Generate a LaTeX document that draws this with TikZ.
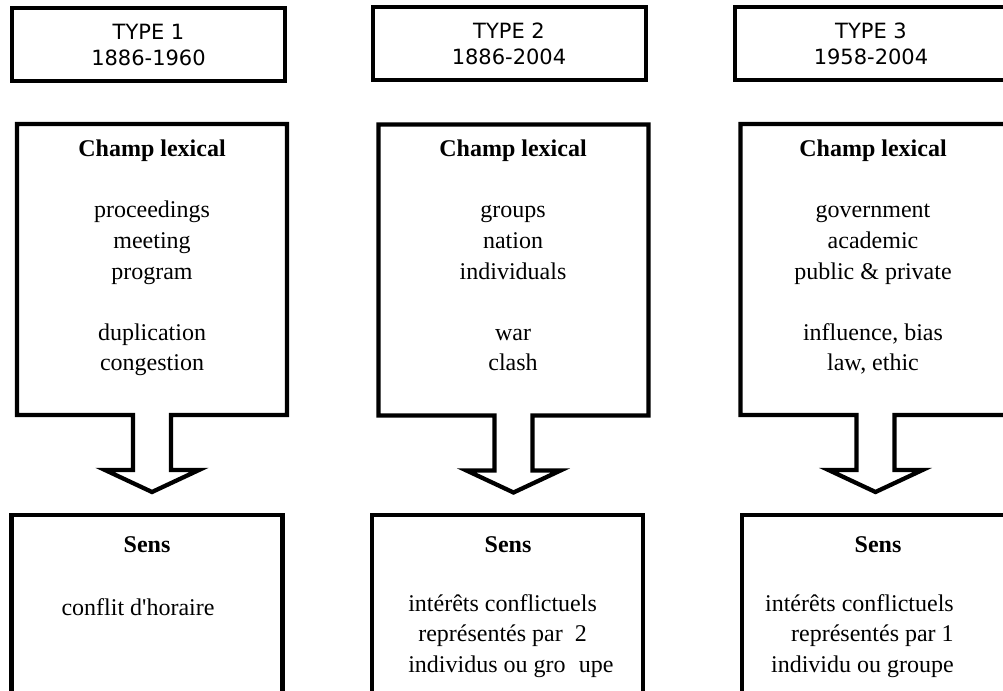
\documentclass[tikz,border=0pt]{standalone}
\usepackage{fontspec}
\setmainfont{Liberation Serif}[Ligatures=TeXOff]
\newfontfamily\typefont{DejaVu Sans}
\usepackage{tikz}
\usetikzlibrary{calc}
\tikzstyle{typebox}=[draw,line width=3pt,minimum width=204.75pt,minimum height=54.75pt,inner sep=0pt,align=center,font=\typefont\fontsize{15.75}{19.5}\selectfont]
\tikzstyle{champbox}=[minimum width=202.5pt,minimum height=218.25pt,inner sep=0pt,outer sep=0pt]
\tikzstyle{sensbox}=[draw,line width=3.2pt,minimum width=203.25pt,minimum height=180pt,inner sep=0pt]
\tikzstyle{words}=[align=center,inner sep=0pt,font=\fontsize{18}{22.9}\selectfont]
\tikzstyle{outline}=[line width=3.2pt,line join=miter]

\begin{document}
\begin{tikzpicture}[x=0.75pt,y=-0.75pt]
      \clip (0,0) rectangle (1003,691);
      \node[typebox] at (148.5,45) (t1) {TYPE 1\\1886-1960};
      \node[typebox] at (509,44) (t2) {TYPE 2\\1886-2004};
      \node[typebox] at (871,44) (t3) {TYPE 3\\1958-2004};

      \node[champbox] at (152,269.5) (c1) {};
      \node[champbox] at (513.5,270) (c2) {};
      \node[champbox] at (875.5,269.5) (c3) {};

      \node[sensbox] at (147,635) (s1) {};
      \node[sensbox] at (507.5,635) (s2) {};
      \node[sensbox] at (877.5,635) (s3) {};

      % box and block arrow in one outline
      \foreach \c in {c1,c2,c3}
        \draw[outline] ($(\c.south)+(-19,0)$) -- (\c.south west) |- (\c.north east)
          -- (\c.south east) -- ($(\c.south)+(19,0)$) -- ++(0,55) -- ++(28,0)
          -- ($(\c.south)+(0,77)$) -- ++(-47,-22) -- ++(28,0) -- cycle;

      \node[words,anchor=north] at (152,140) (w1) {\textbf{Champ lexical}\\[22.9pt]proceedings\\meeting\\program\\[22.9pt]duplication\\congestion};
      \node[words,anchor=north] at (513,140) (w2) {\textbf{Champ lexical}\\[22.9pt]groups\\nation\\individuals\\[22.9pt]war\\clash};
      \node[words,anchor=north] at (873,140) (w3) {\textbf{Champ lexical}\\[22.9pt]government\\academic\\public \& private\\[22.9pt]influence, bias\\law, ethic};

      \node[words] at (147,545) (h1) {\textbf{Sens}};
      \node[words] at (508,545) (h2) {\textbf{Sens}};
      \node[words] at (878,545) (h3) {\textbf{Sens}};

      \node[words] at (138,607) (m1) {conflit d'horaire};
      \node[words,align=left,anchor=west] at (408,636) (m2) {intérêts conflictuels\\\hspace{7.5pt}représentés par~~2\\individus ou gro\hspace{0.55em}upe};
      \node[words,align=right,anchor=east] at (954,636) (m3) {intérêts conflictuels\\représentés par 1\\individu ou groupe};
\end{tikzpicture}
\end{document}
